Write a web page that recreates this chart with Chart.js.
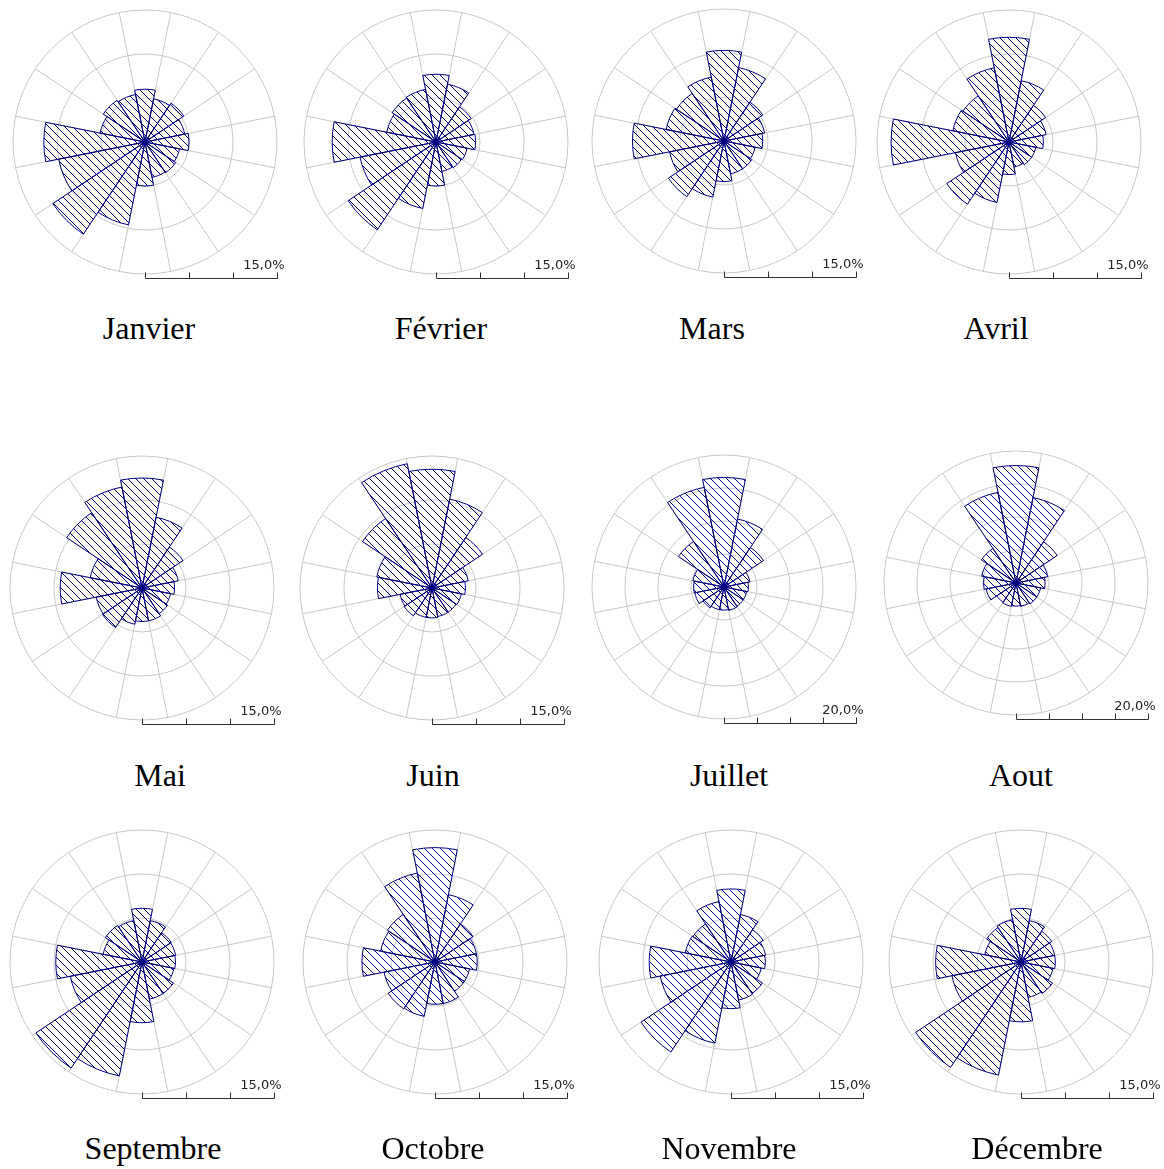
<!DOCTYPE html>
<html>
<head>
<meta charset="utf-8">
<script src="https://cdn.jsdelivr.net/npm/chart.js@4/dist/chart.umd.min.js"></script>
<style>
  body { margin: 0; background: #fff; overflow: hidden; }
  #page { position: relative; width: 1164px; height: 1169px; }
  canvas { position: absolute; }
  .month { position: absolute; font-family: "Liberation Serif", serif; font-size: 32px; color: #000; transform: translate(-50%, -50%); white-space: nowrap; }
</style>
</head>
<body>
<div id="page"></div>
<script>
// Data (% of time per direction)

const directions = ["N","NNE","NE","ENE","E","ESE","SE","SSE","S","SSW","SW","WSW","W","WNW","NW","NNW"];

const months = ["Janvier","Février","Mars","Avril","Mai","Juin","Juillet","Aout","Septembre","Octobre","Novembre","Décembre"];
const scaleMax = [15,15,15,15,15,15,20,20,15,15,15,15];

const janvier   = [6.0, 5.0, 5.3, 4.6, 5.0, 4.0, 4.2, 4.1, 5.0, 9.6, 12.6, 10.0, 11.5, 5.2, 5.7, 5.5];
const fevrier   = [7.7, 6.7, 4.8, 4.4, 4.5, 3.6, 3.5, 3.4, 5.0, 7.7, 12.0, 8.8, 11.8, 5.7, 6.0, 6.1];
const mars      = [10.3, 8.5, 5.3, 4.7, 4.4, 3.6, 3.8, 3.8, 4.6, 6.5, 7.6, 6.3, 10.4, 6.7, 6.5, 7.4];
const avril     = [11.9, 7.1, 5.0, 4.3, 3.9, 3.1, 3.1, 2.9, 3.7, 7.0, 8.5, 6.2, 13.4, 6.5, 6.3, 8.6];
const mai       = [12.5, 8.2, 5.6, 4.2, 3.7, 3.3, 3.5, 3.8, 3.8, 4.2, 5.4, 5.3, 9.3, 6.0, 10.3, 11.7];
const juin      = [13.5, 10.3, 6.9, 4.2, 3.8, 3.4, 3.3, 3.3, 3.4, 3.4, 3.8, 3.7, 6.2, 6.4, 9.5, 14.4];
const juillet   = [16.6, 10.5, 7.2, 4.0, 3.7, 3.5, 3.5, 3.6, 3.5, 3.5, 3.8, 4.5, 4.6, 4.8, 8.3, 15.4];
const aout      = [17.8, 13.2, 7.5, 4.9, 4.4, 3.8, 3.8, 3.6, 3.5, 3.6, 3.5, 4.6, 4.9, 5.3, 6.3, 14.0];
const septembre = [6.1, 4.8, 4.0, 3.9, 3.8, 3.7, 4.3, 4.3, 6.9, 13.2, 14.5, 8.3, 9.8, 4.5, 5.0, 4.8];
const octobre   = [13.0, 7.8, 5.2, 4.8, 4.8, 4.0, 4.0, 4.8, 4.8, 6.3, 6.4, 5.9, 8.3, 6.3, 6.5, 10.3];
const novembre  = [8.3, 5.5, 4.4, 4.0, 3.9, 3.5, 4.3, 4.4, 5.3, 9.4, 12.3, 8.2, 9.3, 5.3, 5.2, 7.0];
const decembre  = [6.1, 4.8, 4.2, 3.9, 3.9, 3.7, 4.3, 4.1, 6.8, 13.1, 14.4, 8.0, 9.7, 4.2, 4.7, 4.9];

const series = [janvier, fevrier, mars, avril, mai, juin, juillet, aout, septembre, octobre, novembre, decembre];

// Layout: rose centres and label centres on the page

const roseX = [145, 436, 724, 1009, 142, 432, 724, 1016, 142, 435, 731, 1021];
const roseY = [142, 142, 141, 142, 588, 588, 587, 583, 962, 962, 962, 962];
const labelX = [149, 441, 712, 996, 160, 433, 729, 1021, 153, 433, 729, 1037];
const labelY = [328, 328, 328, 328, 775, 775, 775, 775, 1148, 1148, 1148, 1148];

const R = 132;
const W = 300, H = 300, CX = 150, CY = 141;

const navy = "#000080";
const gridColor = "#c8c8c8";

// Hatch pattern, 1px diagonal "\" lines

function makeHatch() {
  const c = document.createElement("canvas");
  c.width = 8;
  c.height = 8;
  const g = c.getContext("2d");
  g.fillStyle = navy;
  for (let k = 0; k < 8; k++) {
    g.fillRect(k, k, 1, 1);
  }
  return g.createPattern(c, "repeat");
}

// Centre dot + scale bar

const roseExtras = {
  id: "roseExtras",
  afterDatasetsDraw(chart) {
    const r = chart.scales.r;
    const ctx = chart.ctx;
    ctx.save();

    ctx.fillStyle = navy;
    ctx.beginPath();
    ctx.arc(r.xCenter, r.yCenter, 3.5, 0, Math.PI * 2);
    ctx.fill();

    const y = Math.round(r.yCenter + r.drawingArea + 4) + 0.5;
    const x0 = Math.round(r.xCenter) + 0.5;
    const x1 = Math.round(r.xCenter + r.getDistanceFromCenterForValue(r.max)) + 0.5;
    ctx.strokeStyle = "#303030";
    ctx.lineWidth = 1;
    ctx.beginPath();
    ctx.moveTo(x0, y);
    ctx.lineTo(x1, y);
    r.ticks.forEach(t => {
      const x = Math.round(r.xCenter + r.getDistanceFromCenterForValue(t.value)) + 0.5;
      ctx.moveTo(x, y);
      ctx.lineTo(x, y - 6);
    });
    ctx.stroke();

    ctx.fillStyle = "#222";
    ctx.font = "13px 'DejaVu Sans'";
    ctx.textAlign = "right";
    ctx.textBaseline = "alphabetic";
    ctx.fillText(r.max.toFixed(1).replace(".", ",") + "%", x1 + 7, y - 10);

    ctx.restore();
  }
};

// Build the roses

const page = document.getElementById("page");

months.forEach((name, i) => {

  const canvas = document.createElement("canvas");
  canvas.width = W;
  canvas.height = H;
  canvas.style.left = (roseX[i] - CX) + "px";
  canvas.style.top = (roseY[i] - CY) + "px";
  page.appendChild(canvas);

  const label = document.createElement("div");
  label.className = "month";
  label.textContent = name;
  label.style.left = labelX[i] + "px";
  label.style.top = labelY[i] + "px";
  page.appendChild(label);

  new Chart(canvas, {
    type: "polarArea",
    data: {
      labels: directions,
      datasets: [{
        data: series[i],
        backgroundColor: makeHatch(),
        borderColor: navy,
        borderWidth: 1
      }]
    },
    options: {
      responsive: false,
      animation: false,
      devicePixelRatio: 1,
      events: [],
      layout: {
        padding: { left: CX - R, right: W - CX - R, top: CY - R, bottom: H - CY - R }
      },
      plugins: {
        legend: { display: false },
        tooltip: { enabled: false }
      },
      scales: {
        r: {
          min: 0,
          max: scaleMax[i],
          startAngle: -11.25,
          ticks: { display: false, stepSize: 5 },
          grid: { color: gridColor, lineWidth: 1 },
          angleLines: { display: true, color: gridColor, lineWidth: 1 },
          pointLabels: { display: false }
        }
      }
    },
    plugins: [roseExtras]
  });

});
</script>
</body>
</html>
